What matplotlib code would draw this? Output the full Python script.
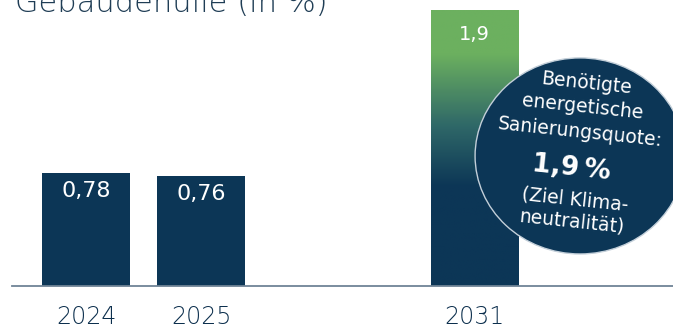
import numpy as np
import matplotlib.pyplot as plt
from matplotlib.patches import Ellipse
from matplotlib.colors import LinearSegmentedColormap

# data
years = ['2024', '2025', '2031']
values = [0.78, 0.76, 1.9]
labels = ['0,78', '0,76', '1,9']
xpos = [0, 1, 3.38]

title = 'Gebäudehülle (in %)'
bubble_lines = ['Benötigte', 'energetische', 'Sanierungsquote:']
bubble_value = '1,9\u2009%'
bubble_note = ['(Ziel Klima-', 'neutralität)']

NAVY = '#0c3656'
GREEN = '#6cb05f'
LIGHT = 'light'

plt.rcParams['font.family'] = ['DejaVu Sans']

fig = plt.figure(figsize=(6.73, 3.27), dpi=100)
ax = fig.add_axes([0, 0, 1, 1])
ax.set_xlim(-0.748, 5.104)
ax.set_ylim(-0.282, 1.968)
ax.axis('off')

width = 0.765
bars = ax.bar(xpos, values, width=width, color=NAVY, zorder=2)

# gradient on the target bar
last = bars[-1]
cmap = LinearSegmentedColormap.from_list(
    'g', [(0, NAVY), (0.36, NAVY), (0.58, '#2f6868'), (0.84, GREEN), (1, GREEN)])
grad = np.linspace(0, 1, 256).reshape(-1, 1)
x0 = xpos[-1] - width / 2
im = ax.imshow(grad, cmap=cmap, origin='lower', aspect='auto',
               extent=[x0, x0 + width, 0, values[-1]], zorder=3)
im.set_clip_path(last)

# value labels
for x, v, lab in zip(xpos[:2], values[:2], labels[:2]):
    ax.text(x, v - 0.128, lab, ha='center', va='center', color='white',
            fontsize=16, zorder=5)
ax.text(xpos[2], values[2] - 0.17, labels[2], ha='center', va='center',
        color='white', fontsize=14, zorder=5)

# baseline
ax.axhline(0, xmin=12 / 673, xmax=1, color='#6f8496', lw=1.3, zorder=4)

# year labels
for x, y in zip(xpos, years):
    ax.text(x, -0.21, y, ha='center', va='center', color='#0c2f4d',
            fontsize=17, fontweight=LIGHT)

# bubble
bub = Ellipse((4.296, 0.895), 1.826, 1.349, angle=0, facecolor=NAVY,
              edgecolor='#c3cfd9', lw=1.0, zorder=6)
ax.add_patch(bub)

rot = -6
kw = dict(ha='center', va='center', color='white', rotation=rot,
          rotation_mode='anchor', zorder=7)
# line centres (data units) for the bubble text
line_x = [4.35, 4.32, 4.30]
line_y = [1.397, 1.232, 1.060]
for s, lx, ly in zip(bubble_lines, line_x, line_y):
    ax.text(lx, ly, s, fontsize=13.5, **kw)
ax.text(4.22, 0.812, bubble_value, fontsize=19, fontweight='bold', **kw)
ax.text(4.25, 0.592, bubble_note[0], fontsize=13.5, **kw)
ax.text(4.22, 0.44, bubble_note[1], fontsize=13.5, **kw)

# title, partly cut off at the top
fig.text(15 / 673, 1 - 12 / 327, title, ha='left', va='baseline',
         color='#1f3d55', fontsize=22, fontweight=LIGHT)

fig.savefig('out.png', dpi=100)
